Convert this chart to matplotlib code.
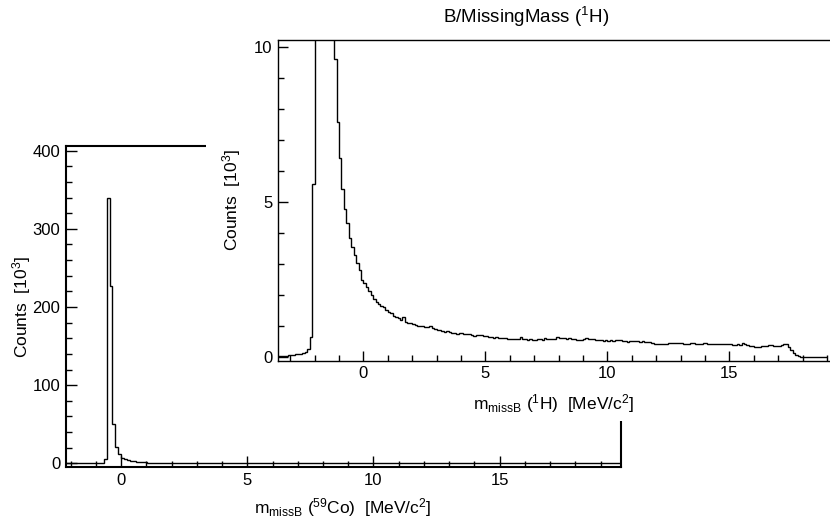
import numpy as np
import matplotlib
matplotlib.use("Agg")
import matplotlib.pyplot as plt

plt.rcParams['font.family'] = ['Liberation Sans', 'DejaVu Sans']
plt.rcParams['mathtext.fontset'] = 'custom'
plt.rcParams['mathtext.rm'] = 'Liberation Sans'
plt.rcParams['mathtext.it'] = 'Liberation Sans:italic'
plt.rcParams['mathtext.default'] = 'rm'

# main histogram: m_missB for 59Co, counts in 10^3, 200 bins
co_lo, co_hi = -2.2, 19.8
co_counts = [
    0, 0, 0, 0, 0, 0, 0, 0, 0, 0, 0, 0, 0,
    5, 340, 227, 50, 21, 12, 7,
    5.0, 4.0, 3.2, 2.6, 2.1, 1.7, 1.4, 1.2, 1.0, 0.85,
    0.75, 0.65, 0.57, 0.5, 0.45, 0.41, 0.38, 0.35, 0.33, 0.31,
    0.30, 0.29, 0.28, 0.27, 0.26, 0.26, 0.25, 0.25, 0.24, 0.24,
    0.23, 0.23, 0.23, 0.22, 0.22, 0.22, 0.21, 0.21, 0.21, 0.20,
    0.20, 0.20, 0.20, 0.19, 0.20, 0.19, 0.19, 0.19, 0.19, 0.18,
    0.19, 0.18, 0.18, 0.18, 0.18, 0.18, 0.17, 0.18, 0.17, 0.17,
    0.17, 0.17, 0.17, 0.17, 0.16, 0.17, 0.16, 0.16, 0.16, 0.16,
    0.16, 0.16, 0.16, 0.16, 0.16, 0.15, 0.16, 0.15, 0.15, 0.15,
    0.15, 0.15, 0.15, 0.15, 0.15, 0.15, 0.15, 0.15, 0.15, 0.15,
    0.15, 0.15, 0.15, 0.15, 0.15, 0.15, 0.15, 0.15, 0.15, 0.15,
    0.15, 0.15, 0.15, 0.15, 0.15, 0.15, 0.15, 0.15, 0.15, 0.15,
    0.15, 0.15, 0.15, 0.15, 0.15, 0.15, 0.15, 0.15, 0.15, 0.15,
    0.15, 0.15, 0.15, 0.15, 0.15, 0.15, 0.15, 0.15, 0.15, 0.15,
    0.15, 0.15, 0.15, 0.15, 0.15, 0.15, 0.15, 0.15, 0.15, 0.15,
    0.15, 0.15, 0.15, 0.15, 0.15, 0.15, 0.15, 0.15, 0.15, 0.15,
    0.15, 0.15, 0.12, 0.08, 0.04, 0.02, 0, 0, 0, 0,
    0, 0, 0, 0, 0, 0, 0, 0, 0, 0,
]

# inset histogram: m_missB for 1H, counts in 10^3, 225 bins of 0.1 MeV
h_lo, h_hi = -3.5, 19.0
h_counts = [
    0.02, 0.03, 0.03, 0.04, 0.05, 0.06, 0.07, 0.08, 0.09, 0.10,
    0.13, 0.16, 0.24, 0.65, 5.57, 13.0, 19.0, 24.0, 27.0, 26.0,
    22.0, 17.0, 12.8, 9.62, 7.58, 6.40, 5.40, 4.78, 4.32, 3.82,
    3.53, 3.28, 3.01, 2.80, 2.49, 2.37, 2.24, 2.13, 1.99, 1.88,
    1.77, 1.70, 1.63, 1.59, 1.51, 1.45, 1.40, 1.31, 1.27, 1.24,
    1.20, 1.29, 1.13, 1.10, 1.08, 1.07, 1.03, 1.00, 0.99, 0.98,
    0.95, 0.95, 0.98, 0.93, 0.91, 0.86, 0.85, 0.84, 0.81, 0.82,
    0.80, 0.77, 0.78, 0.75, 0.76, 0.77, 0.75, 0.74, 0.73, 0.70,
    0.68, 0.70, 0.71, 0.70, 0.67, 0.66, 0.65, 0.63, 0.62, 0.63,
    0.62, 0.60, 0.59, 0.59, 0.57, 0.56, 0.57, 0.56, 0.56, 0.65,
    0.57, 0.56, 0.55, 0.56, 0.54, 0.54, 0.57, 0.56, 0.55, 0.59,
    0.58, 0.56, 0.57, 0.56, 0.65, 0.60, 0.59, 0.60, 0.58, 0.59,
    0.57, 0.56, 0.55, 0.54, 0.55, 0.57, 0.59, 0.57, 0.56, 0.56,
    0.55, 0.54, 0.53, 0.52, 0.53, 0.52, 0.53, 0.52, 0.54, 0.53,
    0.54, 0.52, 0.50, 0.48, 0.50, 0.52, 0.51, 0.50, 0.49, 0.50,
    0.48, 0.48, 0.47, 0.43, 0.41, 0.41, 0.42, 0.41, 0.41, 0.42,
    0.46, 0.45, 0.45, 0.44, 0.43, 0.43, 0.41, 0.40, 0.41, 0.43,
    0.43, 0.42, 0.41, 0.42, 0.43, 0.43, 0.42, 0.41, 0.41, 0.42,
    0.41, 0.40, 0.41, 0.41, 0.41, 0.40, 0.39, 0.39, 0.40, 0.39,
    0.43, 0.40, 0.37, 0.35, 0.34, 0.32, 0.33, 0.32, 0.34, 0.35,
    0.36, 0.38, 0.37, 0.36, 0.35, 0.36, 0.38, 0.40, 0.41, 0.33,
    0.22, 0.12, 0.05, 0.01, 0, 0, 0, 0, 0, 0,
    0, 0, 0, 0, 0,
]

co_edges = np.linspace(co_lo, co_hi, len(co_counts) + 1)
h_edges = np.linspace(h_lo, h_hi, len(h_counts) + 1)

W, H = 830, 519
fig = plt.figure(figsize=(W / 100, H / 100), dpi=100)

def px(x0, y0, x1, y1):
    # pixel box (top-left origin) -> figure fraction rect
    return [x0 / W, 1 - y1 / H, (x1 - x0) / W, (y1 - y0) / H]

def ftext(x, y, s, **kw):
    fig.text(x / W, 1 - y / H, s, ha='center', va='center', **kw)

# main pad
ax = fig.add_axes(px(65.7, 145.7, 620.7, 467))
ax.stairs(co_counts, co_edges, baseline=None, color='black', lw=1.0)
ax.set_xlim(co_lo, co_hi)
ax.set_ylim(-4.7, 406.4)
ax.set_xticks([0, 5, 10, 15])
ax.set_xticks(np.arange(-2, 20, 1), minor=True)
ax.set_yticks([0, 100, 200, 300, 400])
ax.set_yticks(np.arange(0, 401, 20), minor=True)
ax.tick_params(direction='in', which='major', length=8, width=1, labelsize=12, pad=4)
ax.tick_params(direction='in', which='minor', length=4.5, width=1)
for s in ax.spines.values():
    s.set_linewidth(1.5)

ftext(343, 508, r'm$_{\mathrm{missB}}$ ($^{59}$Co)  [MeV/c$^{2}$]', fontsize=12.5)
ftext(22, 307, r'Counts  [10$^{3}$]', fontsize=12.5, rotation=90)

# inset pad covers part of main pad
pad = fig.add_axes(px(206, 0, 831, 421))
pad.set_facecolor('white')
pad.set_xticks([])
pad.set_yticks([])
for s in pad.spines.values():
    s.set_visible(False)

ins = fig.add_axes(px(278, 40, 831, 360.5))
ins.stairs(h_counts, h_edges, baseline=None, color='black', lw=1.0)
ins.set_xlim(h_lo, h_lo + (831 - 278) / 24.4)
ins.set_ylim(-0.12, 10.22)
ins.set_xticks([0, 5, 10, 15])
ins.set_xticks(np.arange(-3, 20, 1), minor=True)
ins.set_yticks([0, 5, 10])
ins.set_yticks(np.arange(0, 11, 1), minor=True)
ins.tick_params(direction='in', which='major', length=7, width=1, labelsize=12, pad=4)
ins.tick_params(direction='in', which='minor', length=4, width=1)
ins.spines['right'].set_visible(False)
for s in ins.spines.values():
    s.set_linewidth(1.0)

ftext(554, 404, r'm$_{\mathrm{missB}}$ ($^{1}$H)  [MeV/c$^{2}$]', fontsize=12.5)
ftext(232, 200, r'Counts  [10$^{3}$]', fontsize=12.5, rotation=90)

ftext(526, 17, r'B/MissingMass ($^{1}$H)', fontsize=13.5)

fig.savefig('out.png', dpi=100)
